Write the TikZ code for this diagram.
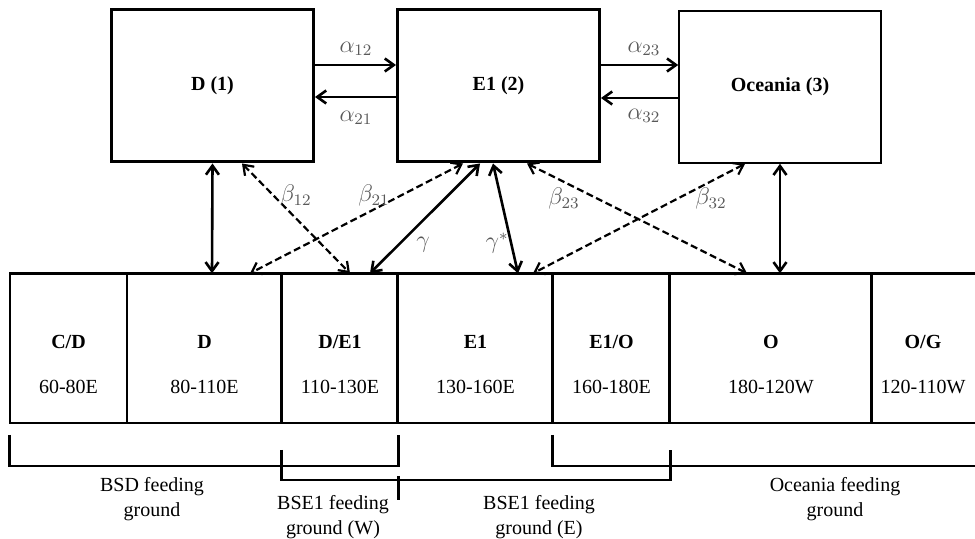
\documentclass[tikz,border=0pt]{standalone}
\usepackage{fontspec}
\setmainfont{Liberation Serif}
\usepackage{amsmath}
\usetikzlibrary{arrows.meta}

\begin{document}
\begin{tikzpicture}[x=0.5pt, y=-0.5pt, font=\fontsize{10}{12.5}\selectfont,
  stock/.style={draw, line width=1.5pt, minimum width=101pt, minimum height=76pt, font=\fontsize{10}{12}\selectfont\bfseries},
  cell/.style={draw, line width=0.7pt, minimum height=74.5pt, inner sep=0pt},
  nm/.style={font=\fontsize{10}{12}\selectfont\bfseries},
  heavy/.style={line width=1.5pt},
  brk/.style={line width=1.3pt},
  arr/.style={line width=1.3pt, {Straight Barb[length=4.5pt,width=6.5pt]}-{Straight Barb[length=4.5pt,width=6.5pt]}},
  one/.style={line width=1.3pt, -{Straight Barb[length=4.5pt,width=6.5pt]}},
  dsh/.style={arr, line width=1.1pt, dash pattern=on 3.5pt off 1.8pt},
  gr/.style={text=black!65, font=\fontsize{11.5}{13}\selectfont}]
  \useasboundingbox (0,0) rectangle (975,539);
  \clip (0,0) rectangle (975,539);

  % breeding stocks
  \node[stock] at (212.5,86) (d) {D (1)};
  \node[stock] at (498.5,86) (e) {E1 (2)};
  \node[stock, line width=0.8pt] at (780,87) (o) {Oceania (3)};

  \draw[one] (d.east |- 0,65) -- (e.west |- 0,65);
  \draw[one] (e.west |- 0,97) -- (d.east |- 0,97);
  \draw[one] (e.east |- 0,65) -- (o.west |- 0,65);
  \draw[one] (o.west |- 0,98) -- (e.east |- 0,98);
  \node[gr] at (356,49) (a12) {$\alpha_{12}$};
  \node[gr] at (356,118) (a21) {$\alpha_{21}$};
  \node[gr] at (644,49) (a23) {$\alpha_{23}$};
  \node[gr] at (644,116) (a32) {$\alpha_{32}$};

  % longitude sectors
  \node[cell, minimum width=58.5pt] at (68.5,348.5) (cd) {};
  \node[cell, minimum width=77.5pt] at (204.5,348.5) (dd) {};
  \node[cell, minimum width=58pt] at (340,348.5) (de) {};
  \node[cell, minimum width=77.5pt] at (475.5,348.5) (ee) {};
  \node[cell, minimum width=58.5pt] at (611.5,348.5) (eo) {};
  \node[cell, minimum width=101pt] at (771,348.5) (oo) {};
  \node[cell, minimum width=56.5pt] at (928.5,348.5) (og) {};
  \draw[heavy] (cd.north west) -- (og.north east);
  \foreach \c in {de,ee,eo,oo,og}
    \draw[heavy] (\c.north west) -- (\c.south west);

  \node[nm] at (68.5,342) (cdn) {C/D};
  \node at (68.5,387) (cdr) {60-80E};
  \node[nm] at (204.5,342) (ddn) {D};
  \node at (204.5,387) (ddr) {80-110E};
  \node[nm] at (340,342) (den) {D/E1};
  \node at (340,387) (der) {110-130E};
  \node[nm] at (475.5,342) (een) {E1};
  \node at (475.5,387) (eer) {130-160E};
  \node[nm] at (611.5,342) (eon) {E1/O};
  \node at (611.5,387) (eor) {160-180E};
  \node[nm] at (771,342) (oon) {O};
  \node at (771,387) (oor) {180-120W};
  \node[nm] at (923,342) (ogn) {O/G};
  \node at (923,387) (ogr) {120-110W};

  % movements
  \draw[arr] (d.south) -- (dd.north -| 212,0);
  \draw[dsh] (d.south -| 242,0) -- (de.north -| 350,0);
  \draw[dsh] (e.south -| 463,0) -- (dd.north -| 250,0);
  \draw[arr] (e.south -| 480,0) -- (de.north -| 370,0);
  \draw[arr] (e.south -| 493,0) -- (ee.north -| 518,0);
  \draw[dsh] (e.south -| 527,0) -- (oo.north -| 747,0);
  \draw[dsh] (o.south -| 745,0) -- (ee.north -| 533,0);
  \draw[arr] (o.south) -- (oo.north -| 780,0);
  \node[gr] at (296,196) (b12) {$\beta_{12}$};
  \node[gr] at (374,196) (b21) {$\beta_{21}$};
  \node[gr] at (423,245) (g) {$\gamma$};
  \node[gr] at (497,243) (gs) {$\gamma^{*}$};
  \node[gr] at (564,199) (b23) {$\beta_{23}$};
  \node[gr] at (711,199) (b32) {$\beta_{32}$};

  % feeding grounds
  \draw[brk] (cd.south west |- 0,435) -- (cd.south west |- 0,466) -| (de.south east |- 0,435);
  \draw[brk] (de.south west |- 0,450) -- (de.south west |- 0,480) -| (eo.south east |- 0,450);
  \draw[brk] (de.south east |- 0,476) -- (de.south east |- 0,500);
  \draw[brk] (eo.south west |- 0,435) -- (eo.south west |- 0,466) -- (og.south east |- 0,466);
  \node[align=center] at (152,499.5) (bsd) {BSD feeding\\ground};
  \node[align=center] at (333,517.5) (bsw) {BSE1 feeding\\ground (W)};
  \node[align=center] at (539,517.5) (bse) {BSE1 feeding\\ground (E)};
  \node[align=center] at (835,499.5) (oce) {Oceania feeding\\ground};
\end{tikzpicture}
\end{document}
